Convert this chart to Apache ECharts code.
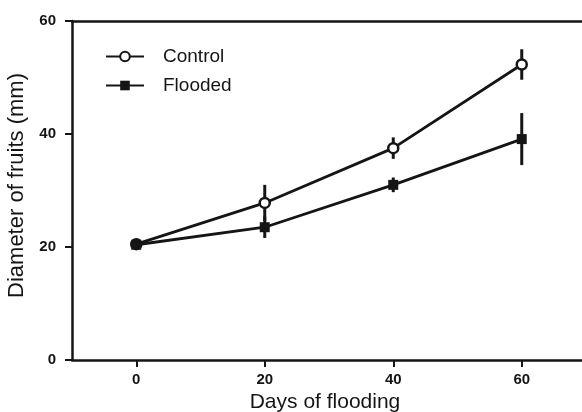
<!DOCTYPE html>
<html>
<head>
<meta charset="utf-8">
<script src="https://cdn.jsdelivr.net/npm/echarts@6/dist/echarts.min.js"></script>
<style>
  html, body { margin: 0; padding: 0; background: #fff; }
  #chart { width: 582px; height: 412px; }
</style>
</head>
<body>
<div id="chart"></div>
<script>
// days after flooding started
var days = [0, 20, 40, 60]
var controlMean = [20.5, 27.8, 37.5, 52.3]
var controlErr = [0.6, 3.2, 1.9, 2.7]
var floodedMean = [20.4, 23.5, 31.0, 39.1]
var floodedErr = [0.6, 1.9, 1.3, 4.6]
var sigLabels = ['', 'ns', '*', '*']
var xTicks = [0, 20, 40, 60]

var ink = '#151515'
var font = 'Arial, "Liberation Sans", sans-serif'

function pairs(xs, ys) {
  return xs.map(function (x, i) { return [x, ys[i]] })
}

function errData(xs, mean, err) {
  return xs.map(function (x, i) { return [x, mean[i] - err[i], mean[i] + err[i]] })
}

function renderErr(params, api) {
  var lo = api.coord([api.value(0), api.value(1)])
  var hi = api.coord([api.value(0), api.value(2)])
  return {
    type: 'line',
    shape: { x1: lo[0], y1: lo[1], x2: hi[0], y2: hi[1] },
    style: { stroke: ink, lineWidth: 3 }
  }
}

var chart = echarts.init(document.getElementById('chart'))

chart.setOption({
  animation: false,
  // plot runs past the right edge, as in the cropped original
  grid: { left: 72, top: 21, bottom: 52, width: 514, outerBoundsMode: 'none', containLabel: false },
  legend: {
    orient: 'vertical',
    left: 100, top: 42,
    itemWidth: 38, itemHeight: 12, itemGap: 10,
    textStyle: { fontFamily: font, fontSize: 19, color: ink, padding: [0, 0, 0, 14] },
    data: ['Control', 'Flooded']
  },
  xAxis: [
    {
      type: 'value', min: -10, max: 70,
      name: 'Days of flooding', nameLocation: 'middle', nameGap: 30,
      nameTextStyle: { fontFamily: font, fontSize: 21, color: ink, padding: [0, 8, 0, 0] },
      splitLine: { show: false },
      axisLine: { onZero: false, lineStyle: { color: ink, width: 2.5 } },
      axisTick: { customValues: xTicks, length: 7, lineStyle: { color: ink, width: 2 } },
      axisLabel: { customValues: xTicks, fontFamily: font, fontWeight: 'bold', fontSize: 15, color: ink, margin: 12 }
    },
    {
      type: 'value', min: -10, max: 70, position: 'top',
      splitLine: { show: false },
      axisLine: { show: true, onZero: false, lineStyle: { color: ink, width: 2.5 } },
      axisTick: { show: false },
      axisLabel: { show: false }
    }
  ],
  yAxis: {
    type: 'value', min: 0, max: 60, interval: 20,
    name: 'Diameter of fruits (mm)', nameLocation: 'middle', nameGap: 33,
    nameTextStyle: { fontFamily: font, fontSize: 22, color: ink, padding: [0, 0, 0, 10] },
    splitLine: { show: false },
    axisLine: { show: true, onZero: false, lineStyle: { color: ink, width: 2.5 } },
    axisTick: { show: true, length: 7, lineStyle: { color: ink, width: 2 } },
    axisLabel: { fontFamily: font, fontWeight: 'bold', fontSize: 15, color: ink, margin: 16 }
  },
  series: [
    {
      name: 'ControlErr', type: 'custom', renderItem: renderErr,
      data: errData(days, controlMean, controlErr), z: 1
    },
    {
      name: 'FloodedErr', type: 'custom', renderItem: renderErr,
      data: errData(days, floodedMean, floodedErr), z: 1
    },
    {
      name: 'Control', type: 'line', data: pairs(days, controlMean),
      symbol: 'circle', symbolSize: 10, showAllSymbol: true,
      lineStyle: { color: ink, width: 2.8 },
      itemStyle: { color: '#fff', borderColor: ink, borderWidth: 2.5 },
      z: 3
    },
    {
      name: 'Flooded', type: 'line', data: pairs(days, floodedMean),
      symbol: 'rect', symbolSize: 10,
      lineStyle: { color: ink, width: 2.8 },
      itemStyle: { color: ink },
      z: 4
    },
    {
      name: 'sig', type: 'scatter', symbol: 'none',
      data: days.map(function (d, i) { return [d, controlMean[i] + controlErr[i]] }),
      label: {
        show: true, position: 'top', distance: 2,
        fontFamily: font, fontSize: 20, color: ink,
        formatter: function (p) { return sigLabels[p.dataIndex] }
      },
      z: 5
    }
  ]
})
</script>
</body>
</html>
